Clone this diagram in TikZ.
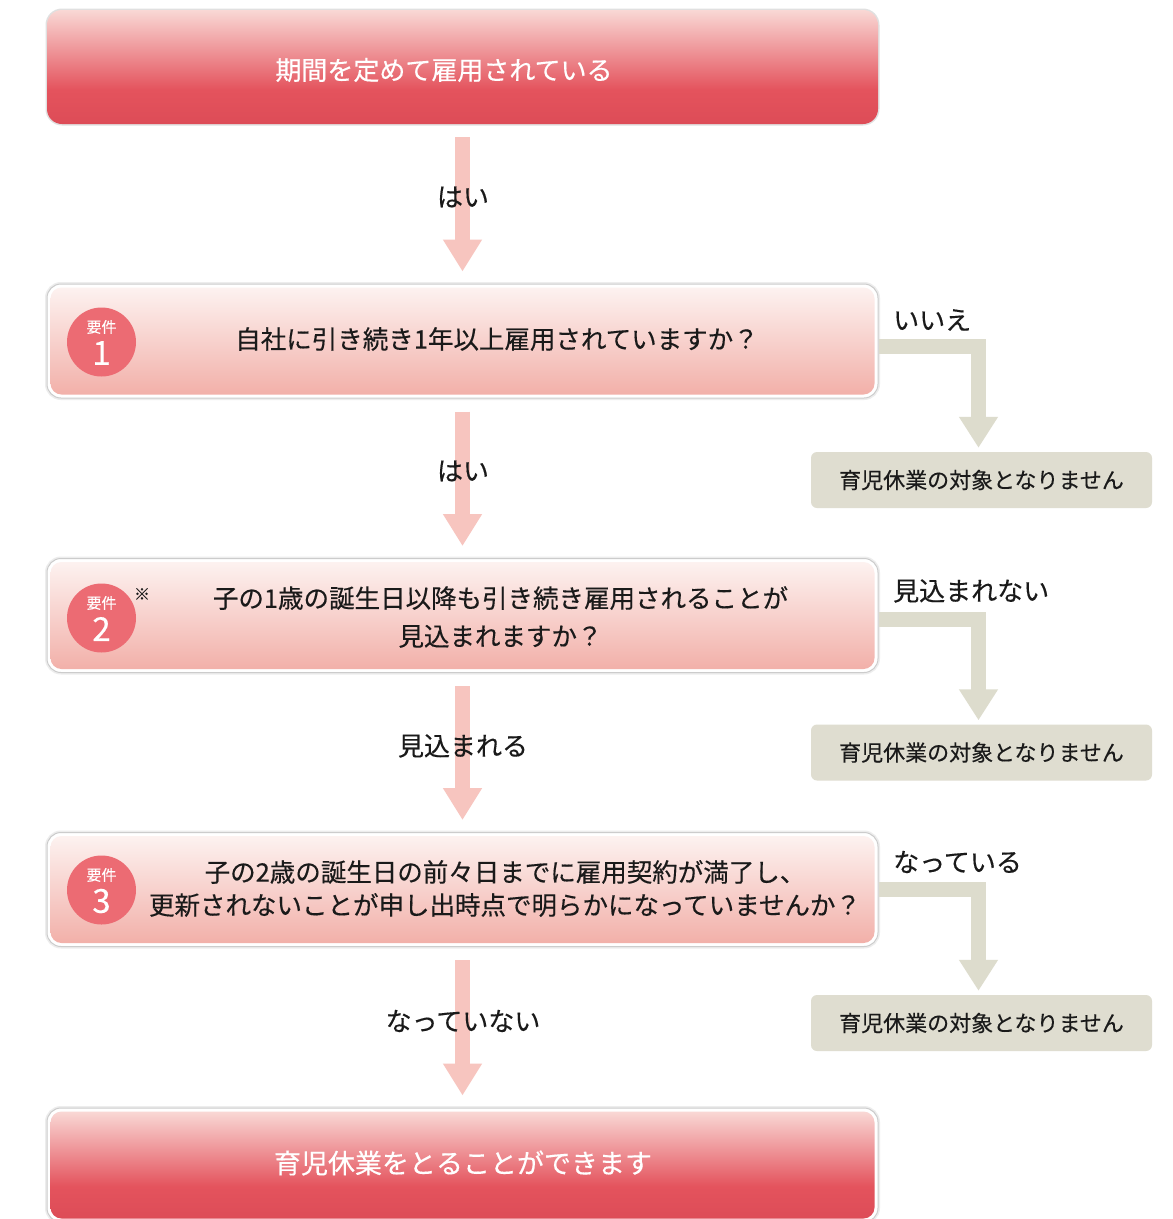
\documentclass[tikz,border=0pt]{standalone}
\usepackage{fontspec}
\newfontfamily\jp[FakeBold=0.35]{Noto Sans CJK JP}
\usetikzlibrary{arrows.meta,calc}
\definecolor{rtop}{HTML}{F9D8D5}
\definecolor{rmid}{HTML}{E4535D}
\definecolor{rbot}{HTML}{DD4C57}
\definecolor{qtop}{HTML}{FDF2F0}
\definecolor{qbot}{HTML}{F2B0A9}
\definecolor{pinkc}{HTML}{F7C5BF}
\definecolor{grayc}{HTML}{DDDCCD}
\definecolor{grayb}{HTML}{DFDDD0}
\definecolor{badgec}{HTML}{EC6B73}
\definecolor{txt}{HTML}{1A1A1A}
\pgfdeclareverticalshading{redgrad}{100bp}{color(0bp)=(rbot); color(25bp)=(rbot); color(40bp)=(rmid); color(75bp)=(rtop); color(100bp)=(rtop)}
\newcommand{\fs}[1]{\fontsize{#1}{#1}\selectfont}
\begin{document}
\begin{tikzpicture}[x=1pt,y=-1pt,font=\jp,
  redbox/.style={rectangle, rounded corners=15pt, minimum width=831pt, minimum height=114pt, inner sep=0pt, shading=redgrad, preaction={draw=black!12, line width=3pt}},
  qbox/.style={rectangle, rounded corners=14pt, minimum width=831pt, minimum height=114pt, inner sep=0pt, fill=white, draw=black!20, line width=1pt, preaction={draw=black!7, line width=4pt}},
  qinner/.style={top color=qtop, bottom color=qbot, rounded corners=11pt},
  graybox/.style={rectangle, rounded corners=6pt, minimum width=341pt, minimum height=56pt, inner sep=0pt, fill=grayb, text=txt, font=\jp\fs{22}},
  pinkarrow/.style={draw=pinkc, line width=15pt, -{Triangle[length=32pt,width=37pt]}, shorten <=13pt, shorten >=12pt},
  grayarrow/.style={draw=grayc, line width=15pt, line join=miter, -{Triangle[length=31pt,width=37pt]}, shorten >=4pt},
  lbl/.style={text=txt, font=\jp\fs{26}, inner sep=0pt},
  qtext/.style={text=txt, font=\jp\fs{25.5}, inner sep=0pt, align=center},
  wtext/.style={text=white, font=\jp\fs{26}, inner sep=0pt},
  badge/.style={circle, fill=badgec, minimum size=69pt, inner sep=0pt},
  btext/.style={text=white, inner sep=0pt}
]
\useasboundingbox (0,0) rectangle (1173,1219);
\clip (0,0) rectangle (1173,1219);
\fill[white] (0,0) rectangle (1173,1219);

% main boxes
\node[redbox] (top) at (462.5,67) {};
\node[qbox] (q1) at (462.5,341) {};
\node[qbox] (q2) at (462.5,615.5) {};
\node[qbox] (q3) at (462.5,889.5) {};
\node[qbox] (bot) at (462.5,1165) {};
\foreach \n in {q1,q2,q3}{
  \shade[qinner] ($(\n.north west)+(4,4)$) rectangle ($(\n.south east)+(-4,-4)$);
}
\shade[shading=redgrad, rounded corners=11pt] ($(bot.north west)+(4,4)$) rectangle ($(bot.south east)+(-4,-4)$);

% gray result boxes
\node[graybox] (n1) at (981.5,480) {育児休業の対象となりません};
\node[graybox] (n2) at (981.5,752.5) {育児休業の対象となりません};
\node[graybox] (n3) at (981.5,1023) {育児休業の対象となりません};

% pink arrows
\draw[pinkarrow] (top.south) -- (q1.north);
\draw[pinkarrow] (q1.south) -- (q2.north);
\draw[pinkarrow] (q2.south) -- (q3.north);
\draw[pinkarrow] (q3.south) -- (bot.north);

% gray arrows
\draw[grayarrow] ($(q1.east)+(0,5.5)$) -| ($(n1.north)+(-3,0)$);
\draw[grayarrow] ($(q2.east)+(0,3.5)$) -| ($(n2.north)+(-3,0)$);
\draw[grayarrow] (q3.east) -| ($(n3.north)+(-3,0)$);

% labels
\node[lbl] (l1) at (463,197) {はい};
\node[lbl] (l2) at (463,471) {はい};
\node[lbl] (l3) at (463,746) {見込まれる};
\node[lbl] (l4) at (463,1021) {なっていない};
\node[lbl, anchor=west] (r1) at (893,320) {いいえ};
\node[lbl, anchor=west] (r2) at (893,591) {見込まれない};
\node[lbl, anchor=west] (r3) at (893,862) {なっている};

% box texts
\node[wtext] (t0) at (444,70) {期間を定めて雇用されている};
\node[qtext] (t1) at (497,339) {自社に引き続き1年以上雇用されていますか？};
\node[qtext, font=\jp\fontsize{25.5}{38}\selectfont] (t2) at (500.5,617) {子の1歳の誕生日以降も引き続き雇用されることが\\見込まれますか？};
\node[qtext, font=\jp\fontsize{25.5}{33}\selectfont] (t3) at (505,888.5) {子の2歳の誕生日の前々日までに雇用契約が満了し、\\更新されないことが申し出時点で明らかになっていませんか？};
\node[wtext, font=\jp\fs{27}] (t4) at (463,1163) {育児休業をとることができます};

% badges
\node[badge] (b1) at (101.5,342) {};
\node[badge] (b2) at (101.5,618) {};
\node[badge] (b3) at (101.5,890) {};
\foreach \b/\num in {b1/1,b2/2,b3/3}{
  \node[btext, font=\jp\fs{15}] (\b k) at ($(\b.center)+(0,-15)$) {要件};
  \node[btext, font=\jp\fs{33}] (\b n) at ($(\b.center)+(0,11)$) {\num};
}
\node[text=txt, font=\jp\fs{16}, inner sep=0pt] (note) at (142,594) {※};
\end{tikzpicture}
\end{document}
